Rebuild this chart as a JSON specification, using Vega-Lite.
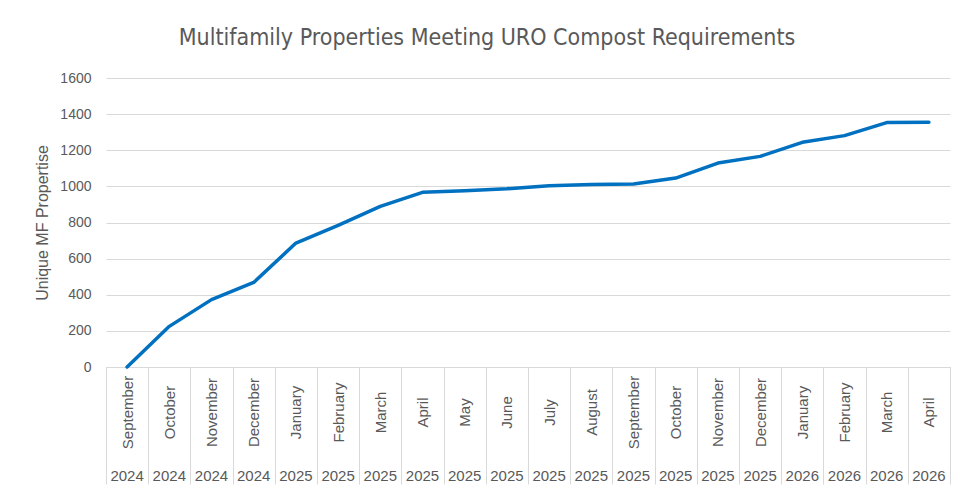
{
  "$schema": "https://vega.github.io/schema/vega-lite/v6.json",
  "width": 844,
  "height": 289,
  "autosize": {"type": "none"},
  "padding": {"left": 106, "top": 78, "right": 11, "bottom": 124},
  "background": "white",
  "title": {
    "text": "Multifamily Properties Meeting URO Compost Requirements",
    "font": "DejaVu Sans Condensed",
    "fontSize": 23,
    "fontWeight": "normal",
    "color": "#595959",
    "anchor": "middle",
    "dx": -41,
    "offset": 21
  },
  "data": {
    "values": [
      {"period": "September 2024", "count": 0},
      {"period": "October 2024", "count": 225},
      {"period": "November 2024", "count": 373},
      {"period": "December 2024", "count": 468},
      {"period": "January 2025", "count": 686},
      {"period": "February 2025", "count": 784},
      {"period": "March 2025", "count": 889},
      {"period": "April 2025", "count": 967},
      {"period": "May 2025", "count": 976},
      {"period": "June 2025", "count": 987},
      {"period": "July 2025", "count": 1004},
      {"period": "August 2025", "count": 1011},
      {"period": "September 2025", "count": 1013},
      {"period": "October 2025", "count": 1046},
      {"period": "November 2025", "count": 1129},
      {"period": "December 2025", "count": 1166},
      {"period": "January 2026", "count": 1244},
      {"period": "February 2026", "count": 1281},
      {"period": "March 2026", "count": 1353},
      {"period": "April 2026", "count": 1355}
    ]
  },
  "layer": [
    {
      "mark": {"type": "line", "color": "#0070C0", "strokeWidth": 3.5, "strokeJoin": "round", "strokeCap": "round"},
      "encoding": {
        "x": {
          "field": "period",
          "type": "ordinal",
          "sort": null,
          "scale": {"type": "band", "paddingInner": 0, "paddingOuter": 0},
          "axis": {
            "orient": "bottom",
            "title": null,
            "labelExpr": "datum.value == null ? '' : split(datum.value, ' ')[0]",
            "labelAngle": -90,
            "labelAlign": "center",
            "labelBaseline": "middle",
            "labelPadding": -72,
            "labelFont": "Liberation Sans",
            "labelFontSize": 15,
            "labelColor": "#595959",
            "ticks": true,
            "tickBand": "extent",
            "tickSize": 117,
            "tickColor": "#d9d9d9",
            "tickWidth": 1,
            "domain": true,
            "domainColor": "#d9d9d9",
            "domainWidth": 1,
            "grid": false
          }
        },
        "y": {
          "field": "count",
          "type": "quantitative",
          "scale": {"domain": [0, 1600]},
          "axis": {
            "title": "Unique MF Propertise",
            "titleFont": "Liberation Sans",
            "titleFontSize": 16,
            "titleFontWeight": "normal",
            "titleColor": "#595959",
            "titlePadding": 9,
            "values": [0, 200, 400, 600, 800, 1000, 1200, 1400, 1600],
            "tickCount": 9,
            "format": "d",
            "labelOverlap": false,
            "labelFont": "Liberation Sans",
            "labelFontSize": 14,
            "labelColor": "#595959",
            "labelPadding": 15,
            "ticks": false,
            "domain": false,
            "grid": true,
            "gridColor": "#d9d9d9",
            "gridWidth": 1.2
          }
        }
      }
    },
    {
      "mark": {"type": "point", "opacity": 0},
      "encoding": {
        "x": {
          "field": "period",
          "type": "ordinal",
          "sort": null,
          "axis": {
            "orient": "bottom",
            "title": null,
            "labelExpr": "split(datum.value, ' ')[1]",
            "labelAngle": 0,
            "labelAlign": "center",
            "labelBaseline": "middle",
            "labelPadding": 108,
            "labelFont": "Liberation Sans",
            "labelFontSize": 15,
            "labelColor": "#595959",
            "ticks": false,
            "domain": false,
            "grid": false
          }
        }
      }
    }
  ],
  "resolve": {"axis": {"x": "independent"}},
  "config": {"view": {"stroke": null}}
}
